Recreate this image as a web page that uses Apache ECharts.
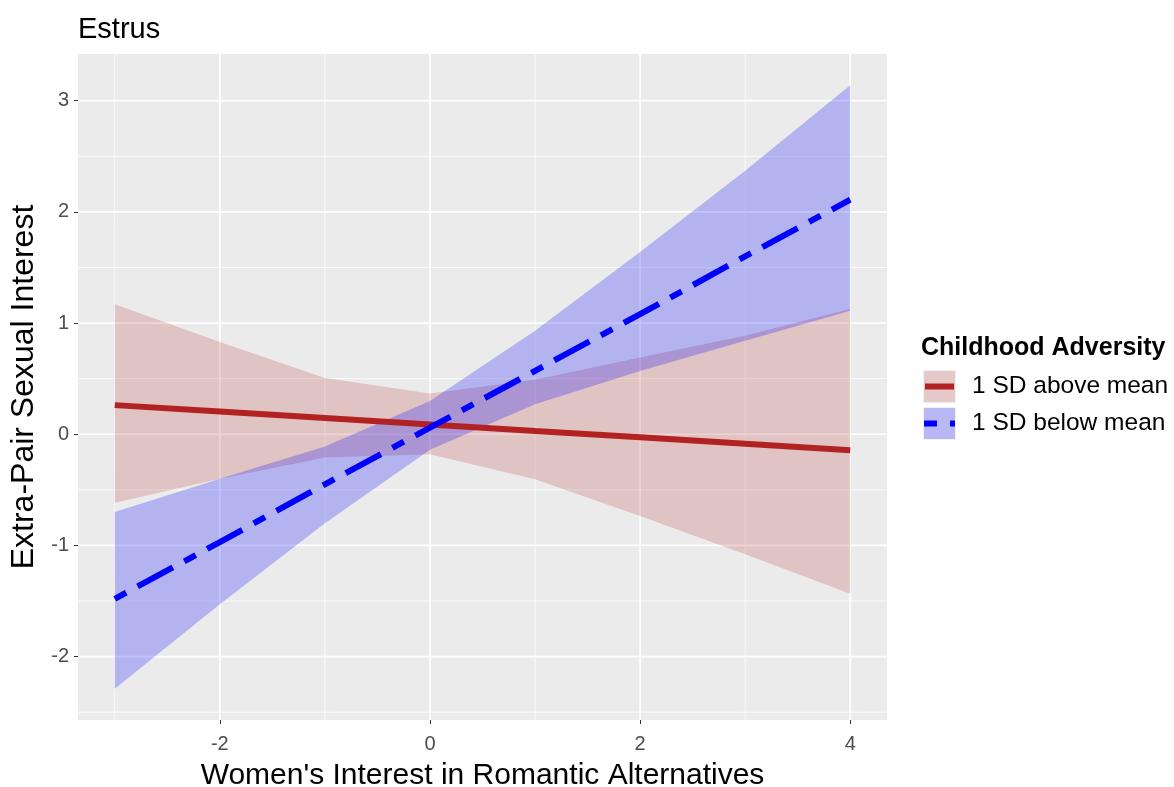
<!DOCTYPE html>
<html><head><meta charset="utf-8">
<script src="https://cdn.jsdelivr.net/npm/echarts@6/dist/echarts.min.js"></script>
<style>html,body{margin:0;padding:0;background:#fff}#chart{width:1174px;height:787px}</style>
</head><body><div id="chart"></div>
<script>
// ---- data ----
const xValues = [-3, -2, -1, 0, 1, 2, 3, 4];
const aboveFit   = [0.262, 0.204, 0.146, 0.088, 0.030, -0.027, -0.085, -0.143];
const aboveLower = [-0.615, -0.40, -0.21, -0.18, -0.405, -0.736, -1.08, -1.435];
const aboveUpper = [1.17, 0.83, 0.505, 0.367, 0.49, 0.69, 0.886, 1.126];
const belowFit   = [-1.48, -0.97, -0.45, 0.06, 0.57, 1.08, 1.60, 2.11];
const belowLower = [-2.29, -1.53, -0.80, -0.14, 0.27, 0.57, 0.84, 1.11];
const belowUpper = [-0.70, -0.40, -0.11, 0.30, 0.93, 1.64, 2.37, 3.14];
const xTicks = [-2, 0, 2, 4];
const xMinor = [-3, -1, 1, 3];
const yTicks = [-2, -1, 0, 1, 2, 3];
const yMinor = [-2.5, -1.5, -0.5, 0.5, 1.5, 2.5];
const seriesNames = ['1 SD above mean', '1 SD below mean'];
const legendTitle = 'Childhood Adversity';
const chartTitle = 'Estrus';
const xTitle = "Women's Interest in Romantic Alternatives";
const yTitle = 'Extra-Pair Sexual Interest';

const FONT = '"Liberation Sans", Arial, sans-serif';
const RED = '#B22222', BLUE = '#0000FF';
const RED_FILL = 'rgba(178,34,34,0.2)', BLUE_FILL = 'rgba(0,0,255,0.24)';
const BLUE_DASH = [13, 13, 40, 13];

function vGrid(values, width) {
  return {
    type: 'custom', z: 1, silent: true, animation: false,
    data: values.map(v => [v, 0]), encode: { x: 0, y: 1 },
    renderItem(params, api) {
      const cs = params.coordSys;
      const x = api.coord([api.value(0), 0])[0];
      return { type: 'line', shape: { x1: x, y1: cs.y, x2: x, y2: cs.y + cs.height },
               style: { stroke: '#FFFFFF', lineWidth: width } };
    }
  };
}
function hGrid(values, width) {
  return {
    type: 'custom', z: 1, silent: true, animation: false,
    data: values.map(v => [0, v]), encode: { x: 0, y: 1 },
    renderItem(params, api) {
      const cs = params.coordSys;
      const y = api.coord([0, api.value(1)])[1];
      return { type: 'line', shape: { x1: cs.x, y1: y, x2: cs.x + cs.width, y2: y },
               style: { stroke: '#FFFFFF', lineWidth: width } };
    }
  };
}
function ribbon(name, lo, hi, color, z) {
  return {
    type: 'custom', name, z, silent: true, animation: false,
    data: xValues.map((x, i) => [x, lo[i], hi[i]]), encode: { x: 0, y: [1, 2] },
    renderItem(params, api) {
      if (params.dataIndex !== 0) return null;
      const pts = [];
      for (let i = 0; i < xValues.length; i++) pts.push(api.coord([xValues[i], hi[i]]));
      for (let i = xValues.length - 1; i >= 0; i--) pts.push(api.coord([xValues[i], lo[i]]));
      return { type: 'polygon', shape: { points: pts }, style: { fill: color } };
    }
  };
}

const chart = echarts.init(document.getElementById('chart'), null, { renderer: 'canvas' });
chart.setOption({
  animation: false,
  backgroundColor: '#FFFFFF',
  title: { text: chartTitle, left: 78, top: 15, padding: 0,
           textStyle: { fontSize: 29, fontWeight: 'normal', color: '#000000', fontFamily: FONT } },
  grid: { left: 78, right: 287, top: 54, bottom: 67, show: true, containLabel: false,
          outerBoundsMode: 'none', backgroundColor: '#EBEBEB', borderWidth: 0 },
  xAxis: {
    type: 'value', min: -3.35, max: 4.35,
    axisLine: { show: false, onZero: false }, splitLine: { show: false },
    axisTick: { show: true, customValues: xTicks, length: 4, lineStyle: { color: '#333333', width: 1 } },
    axisLabel: { customValues: xTicks, color: '#4D4D4D', fontSize: 20, margin: 14, fontFamily: FONT },
    name: xTitle, nameLocation: 'middle', nameGap: 41,
    nameTextStyle: { fontSize: 30, color: '#000000', fontFamily: FONT }
  },
  yAxis: {
    type: 'value', min: -2.57, max: 3.42,
    axisLine: { show: false, onZero: false }, splitLine: { show: false },
    axisTick: { show: true, customValues: yTicks, length: 4, lineStyle: { color: '#333333', width: 1 } },
    axisLabel: { customValues: yTicks, color: '#4D4D4D', fontSize: 20, margin: 9, fontFamily: FONT },
    name: yTitle, nameLocation: 'middle', nameGap: 22,
    nameTextStyle: { fontSize: 32, color: '#000000', fontFamily: FONT }
  },
  series: [
    vGrid(xMinor, 0.8), hGrid(yMinor, 0.8),
    vGrid(xTicks, 1.7), hGrid(yTicks, 1.7),
    ribbon(seriesNames[0] + ' CI', aboveLower, aboveUpper, RED_FILL, 2),
    ribbon(seriesNames[1] + ' CI', belowLower, belowUpper, BLUE_FILL, 3),
    { type: 'line', name: seriesNames[0], z: 4, silent: true, animation: false,
      data: xValues.map((x, i) => [x, aboveFit[i]]), showSymbol: false, symbol: 'none',
      lineStyle: { color: RED, width: 6, cap: 'butt' } },
    { type: 'line', name: seriesNames[1], z: 5, silent: true, animation: false,
      data: xValues.map((x, i) => [x, belowFit[i]]), showSymbol: false, symbol: 'none',
      lineStyle: { color: BLUE, width: 6, cap: 'butt', type: BLUE_DASH } }
  ],
  graphic: [
    { type: 'text', left: 921, top: 336, silent: true,
      style: { text: legendTitle, font: 'bold 25px ' + FONT, fill: '#000000' } },
    { type: 'rect', shape: { x: 923, y: 370, width: 33, height: 33 }, silent: true,
      style: { fill: '#F2F2F2' } },
    { type: 'rect', shape: { x: 924, y: 371, width: 31, height: 31 }, silent: true,
      style: { fill: RED_FILL } },
    { type: 'line', shape: { x1: 925, y1: 386.5, x2: 954, y2: 386.5 }, silent: true,
      style: { stroke: RED, lineWidth: 6, lineCap: 'butt' } },
    { type: 'rect', shape: { x: 923, y: 407, width: 33, height: 33 }, silent: true,
      style: { fill: '#F2F2F2' } },
    { type: 'rect', shape: { x: 924, y: 408, width: 31, height: 31 }, silent: true,
      style: { fill: BLUE_FILL } },
    { type: 'line', shape: { x1: 924, y1: 423.5, x2: 955, y2: 423.5 }, silent: true,
      style: { stroke: BLUE, lineWidth: 6, lineCap: 'butt', lineDash: BLUE_DASH } },
    { type: 'text', left: 972, top: 374, silent: true,
      style: { text: seriesNames[0], font: '24.5px ' + FONT, fill: '#000000' } },
    { type: 'text', left: 972, top: 411, silent: true,
      style: { text: seriesNames[1], font: '24.5px ' + FONT, fill: '#000000' } }
  ]
});
</script></body></html>
